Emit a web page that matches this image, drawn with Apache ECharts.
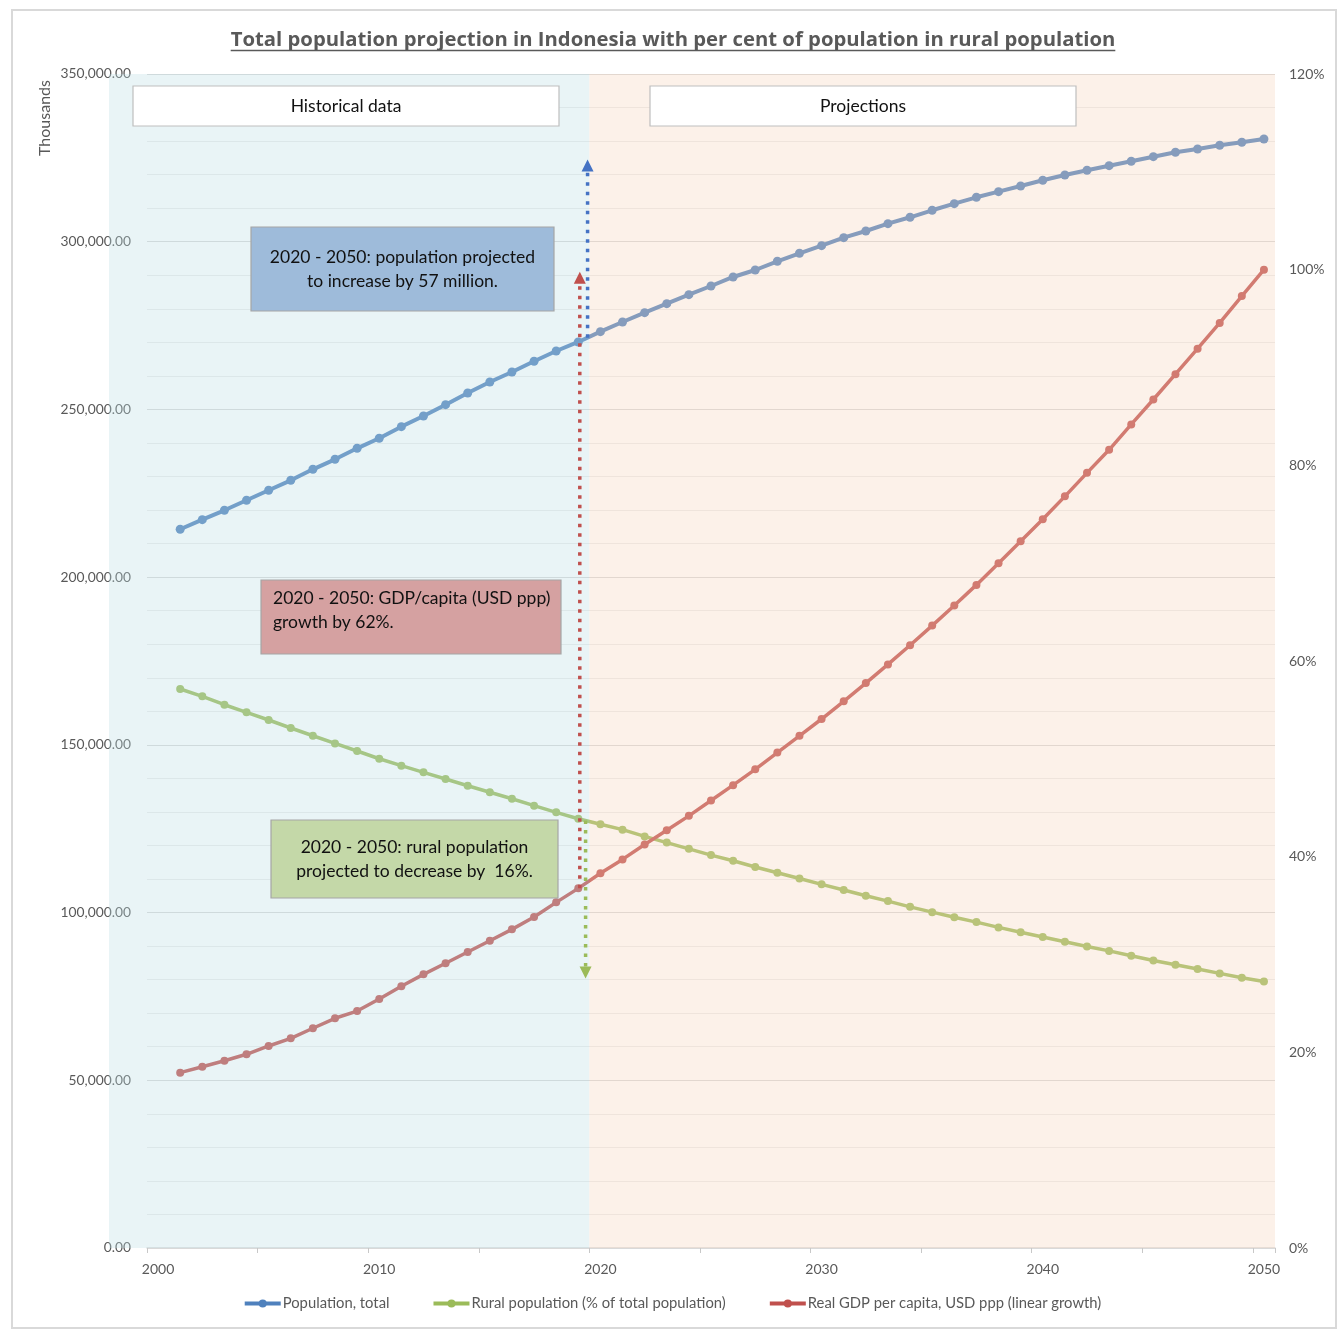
<!DOCTYPE html>
<html>
<head>
<meta charset="utf-8">
<title>Indonesia population projection</title>
<script src="https://cdn.jsdelivr.net/npm/echarts@6/dist/echarts.min.js"></script>
<style>
  html, body { margin: 0; padding: 0; background: #ffffff; }
  #chart { width: 1344px; height: 1329px; }
</style>
</head>
<body>
<div id="chart"></div>
<script>
// Years on the category axis (2000 is an empty slot before the first observation)
const years = ['2000','2001','2002','2003','2004','2005','2006','2007','2008','2009',
  '2010','2011','2012','2013','2014','2015','2016','2017','2018','2019',
  '2020','2021','2022','2023','2024','2025','2026','2027','2028','2029',
  '2030','2031','2032','2033','2034','2035','2036','2037','2038','2039',
  '2040','2041','2042','2043','2044','2045','2046','2047','2048','2049','2050'];

// Total population, thousands (left axis)
const populationTotal = [null,
  214270, 217130, 219930, 222910, 225890, 228870, 232150, 235130, 238410, 241400,
  244860, 248040, 251420, 254900, 258180, 261160, 264350, 267420, 270110, 273180,
  276070, 278840, 281530, 284210, 286800, 289490, 291570, 294170, 296550, 298820,
  301200, 303200, 305380, 307280, 309370, 311340, 313240, 314920, 316610, 318310,
  319900, 321300, 322670, 323980, 325350, 326660, 327650, 328750, 329640, 330630];

// Rural population, % of total (right axis)
const ruralShare = [null,
  57.14, 56.39, 55.53, 54.75, 53.97, 53.15, 52.36, 51.58, 50.80, 50.01,
  49.30, 48.62, 47.94, 47.25, 46.58, 45.92, 45.21, 44.53, 43.88, 43.31,
  42.76, 42.07, 41.44, 40.80, 40.16, 39.58, 38.94, 38.35, 37.77, 37.17,
  36.59, 36.00, 35.46, 34.87, 34.33, 33.80, 33.31, 32.77, 32.28, 31.79,
  31.30, 30.81, 30.37, 29.88, 29.39, 28.95, 28.51, 28.07, 27.63, 27.24];

// Real GDP per capita, USD ppp, linear growth path (right axis)
const gdpPerCapita = [null,
  17.92, 18.53, 19.14, 19.80, 20.65, 21.43, 22.46, 23.48, 24.22, 25.45,
  26.75, 27.97, 29.10, 30.25, 31.41, 32.57, 33.83, 35.33, 36.76, 38.30,
  39.72, 41.24, 42.70, 44.17, 45.74, 47.31, 48.93, 50.64, 52.35, 54.07,
  55.88, 57.74, 59.65, 61.61, 63.62, 65.67, 67.78, 69.98, 72.23, 74.48,
  76.83, 79.23, 81.59, 84.18, 86.73, 89.32, 91.92, 94.56, 97.30, 100.00];

// Axis ranges and text
const leftAxisRange = { min: 0, max: 350000, step: 50000 };
const rightAxisRange = { min: 0, max: 120, step: 20 };
const seriesNames = ['Population, total', 'Rural population (% of total population)', 'Real GDP per capita, USD ppp (linear growth)'];
const titleText = 'Total population projection in Indonesia with per cent of population in rural population';
const periodLabels = ['Historical data', 'Projections'];
const noteTexts = [
  '2020 - 2050: population projected\nto increase by 57 million.',
  '2020 - 2050: GDP/capita (USD ppp)\ngrowth by 62%.',
  '2020 - 2050: rural population\nprojected to decrease by  16%.'
];
const populationArrowTop = 324500;

const FONT = 'Lato, "Open Sans", sans-serif';
const GREY = '#595959';
const BLUE = '#4F81BD', GREEN = '#9BBB59', RED = '#C0504D';

const chart = echarts.init(document.getElementById('chart'), null, { renderer: 'canvas' });

function fmtThousands(v) {
  return Number(v).toLocaleString('en-US', { minimumFractionDigits: 2, maximumFractionDigits: 2 });
}

const lineSeries = (name, data, color, yIdx, width, size) => ({
  name, type: 'line', data, yAxisIndex: yIdx,
  symbol: 'circle', symbolSize: size, showSymbol: true,
  lineStyle: { color, width },
  itemStyle: { color },
  emphasis: { disabled: true },
  animation: false,
  z: 2
});

chart.setOption({
  animation: false,
  textStyle: { fontFamily: FONT },
  grid: { left: 147, right: 69, top: 74, bottom: 81, containLabel: false },
  legend: {
    bottom: 13, left: 'center',
    itemWidth: 36, itemHeight: 10, itemGap: 42,
    lineStyle: { width: 4 },
    textStyle: { color: GREY, fontSize: 14.8, fontFamily: FONT, padding: [0, 0, 0, -3] },
    data: seriesNames
  },
  xAxis: {
    type: 'category', data: years, boundaryGap: true,
    axisLine: { lineStyle: { color: '#d9d9d9', width: 1.5 } },
    axisTick: { show: true, interval: 4, length: 5, lineStyle: { color: '#c8c8c8' } },
    axisLabel: { interval: 9, color: GREY, fontSize: 14, margin: 14, fontFamily: FONT },
    splitLine: { show: false }
  },
  yAxis: [{
    type: 'value', min: leftAxisRange.min, max: leftAxisRange.max, interval: leftAxisRange.step,
    axisLine: { show: false }, axisTick: { show: false },
    axisLabel: { color: GREY, fontSize: 13.8, margin: 16, formatter: fmtThousands, fontFamily: FONT },
    splitLine: { show: true, lineStyle: { color: '#d9d9d9', width: 1.2 } },
    minorTick: { show: false, splitNumber: 5 },
    minorSplitLine: { show: true, lineStyle: { color: '#ececec', width: 1 } }
  }, {
    type: 'value', min: rightAxisRange.min, max: rightAxisRange.max, interval: rightAxisRange.step,
    axisLine: { show: false }, axisTick: { show: false },
    axisLabel: { color: GREY, fontSize: 14, margin: 14, formatter: '{value}%', fontFamily: FONT },
    splitLine: { show: false }
  }],
  series: [
    lineSeries(seriesNames[0], populationTotal, BLUE, 0, 4, 9),
    lineSeries(seriesNames[1], ruralShare, GREEN, 1, 3.5, 8),
    lineSeries(seriesNames[2], gdpPerCapita, RED, 1, 3.5, 8)
  ]
});

// Pixel helpers built on the chart's own axes
const xPx = (cat) => chart.convertToPixel({ xAxisIndex: 0 }, cat);
const yLeft = (v) => chart.convertToPixel({ yAxisIndex: 0 }, v);
const yRight = (v) => chart.convertToPixel({ yAxisIndex: 1 }, v);

const step = xPx('2020') - xPx('2019');
const gridLeft = xPx('2000') - step / 2;
const gridRight = xPx('2050') + step / 2;
const gridTop = yLeft(leftAxisRange.max);
const gridBottom = yLeft(leftAxisRange.min);
const splitX = (xPx('2019') + xPx('2020')) / 2;
const i19 = years.indexOf('2019'), i20 = years.indexOf('2020'), iEnd = years.length - 1;
const lerp = (a, b, t) => a + (b - a) * t;

function measure(text, font) {
  const c = document.createElement('canvas').getContext('2d');
  c.font = font;
  return c.measureText(text).width;
}

function arrow(x, y0, y1, color, z) {
  const up = y1 < y0;
  const head = 12, half = 6;
  const base = up ? y1 + head : y1 - head;
  return [{
    type: 'line', z, silent: true,
    shape: { x1: x, y1: y0, x2: x, y2: base },
    style: { stroke: color, lineWidth: 3.5, lineDash: [3.5, 6], lineCap: 'butt' }
  }, {
    type: 'polygon', z, silent: true,
    shape: { points: [[x, y1], [x - half, base], [x + half, base]] },
    style: { fill: color }
  }];
}

const BOX_FONT = '17.5px ' + FONT;
function box(x, y, w, h, fill, stroke, text, align) {
  const els = [{
    type: 'rect', z: 30, silent: true,
    shape: { x, y, width: w, height: h },
    style: { fill, stroke, lineWidth: 1.2 }
  }];
  if (align === 'left') {
    els.push({
      type: 'text', z: 31, silent: true, x: x + 12, y: y + 7,
      style: { text, fill: '#111111', font: BOX_FONT, align: 'left', verticalAlign: 'top', lineHeight: 23.5 }
    });
  } else {
    els.push({
      type: 'text', z: 31, silent: true, x: x + w / 2, y: y + h / 2,
      style: { text, fill: '#111111', font: BOX_FONT, align: 'center', verticalAlign: 'middle', lineHeight: 24 }
    });
  }
  return els;
}

// Title: bold, underlined, sized to span the header width
const titleSpan = 885;
const baseTitleFont = (s) => 'bold ' + s + 'px "Open Sans", Lato, sans-serif';
const titleSize = 19 * titleSpan / measure(titleText, baseTitleFont(19));
const titleFont = baseTitleFont(titleSize.toFixed(2));
const titleW = measure(titleText, titleFont);
const titleX = 673;

const blueArrowX = lerp(xPx('2019'), xPx('2020'), 0.42);
const greenArrowX = lerp(xPx('2019'), xPx('2020'), 0.33);
const redArrowX = xPx('2019') + 1.5;

const graphics = [
  // outer frame
  { type: 'rect', z: 0, silent: true, shape: { x: 12, y: 10, width: 1324, height: 1318 },
    style: { fill: null, stroke: '#d9d9d9', lineWidth: 2 } },
  // title with underline
  { type: 'text', z: 40, silent: true, x: titleX, y: 40,
    style: { text: titleText, font: titleFont, fill: GREY, align: 'center', verticalAlign: 'middle' } },
  { type: 'line', z: 40, silent: true,
    shape: { x1: titleX - titleW / 2, y1: 50.5, x2: titleX + titleW / 2, y2: 50.5 },
    style: { stroke: GREY, lineWidth: 1.6 } },
  // axis unit
  { type: 'text', z: 40, silent: true, x: 45, y: 118, rotation: Math.PI / 2,
    style: { text: 'Thousands', font: '16px ' + FONT, fill: GREY, align: 'center', verticalAlign: 'middle' } },
  // period shading, laid over the plot as a translucent wash
  { type: 'rect', z: 10, silent: true,
    shape: { x: gridLeft - 38, y: gridTop, width: splitX - (gridLeft - 38), height: gridBottom - gridTop },
    style: { fill: 'rgba(188,222,228,0.33)' } },
  { type: 'rect', z: 10, silent: true,
    shape: { x: splitX, y: gridTop, width: gridRight - splitX, height: gridBottom - gridTop },
    style: { fill: 'rgba(246,213,188,0.33)' } },
  // change arrows from 2019/2020 towards 2050 levels
  ...arrow(blueArrowX,
    yLeft(lerp(populationTotal[i19], populationTotal[i20], 0.42)),
    yLeft(populationArrowTop), '#4472C4', 20),
  ...arrow(redArrowX, yRight(gdpPerCapita[i19]), yRight(gdpPerCapita[iEnd]) + 2, RED, 21),
  ...arrow(greenArrowX,
    yRight(lerp(ruralShare[i19], ruralShare[i20], 0.33)),
    yRight(ruralShare[iEnd]) - 3, GREEN, 20),
  // period labels
  ...box(133, 86, 426, 40, '#ffffff', '#bfbfbf', periodLabels[0], 'center'),
  ...box(650, 86, 426, 40, '#ffffff', '#bfbfbf', periodLabels[1], 'center'),
  // notes
  ...box(251, 227, 303, 84, '#9ebbda', '#a6a6a6', noteTexts[0], 'center'),
  ...box(261, 580, 300, 74, '#d5a1a1', '#a6a6a6', noteTexts[1], 'left'),
  ...box(271, 820, 287, 78, '#c4d8a8', '#a6a6a6', noteTexts[2], 'center')
];

chart.setOption({ graphic: { elements: graphics } });
</script>
</body>
</html>
